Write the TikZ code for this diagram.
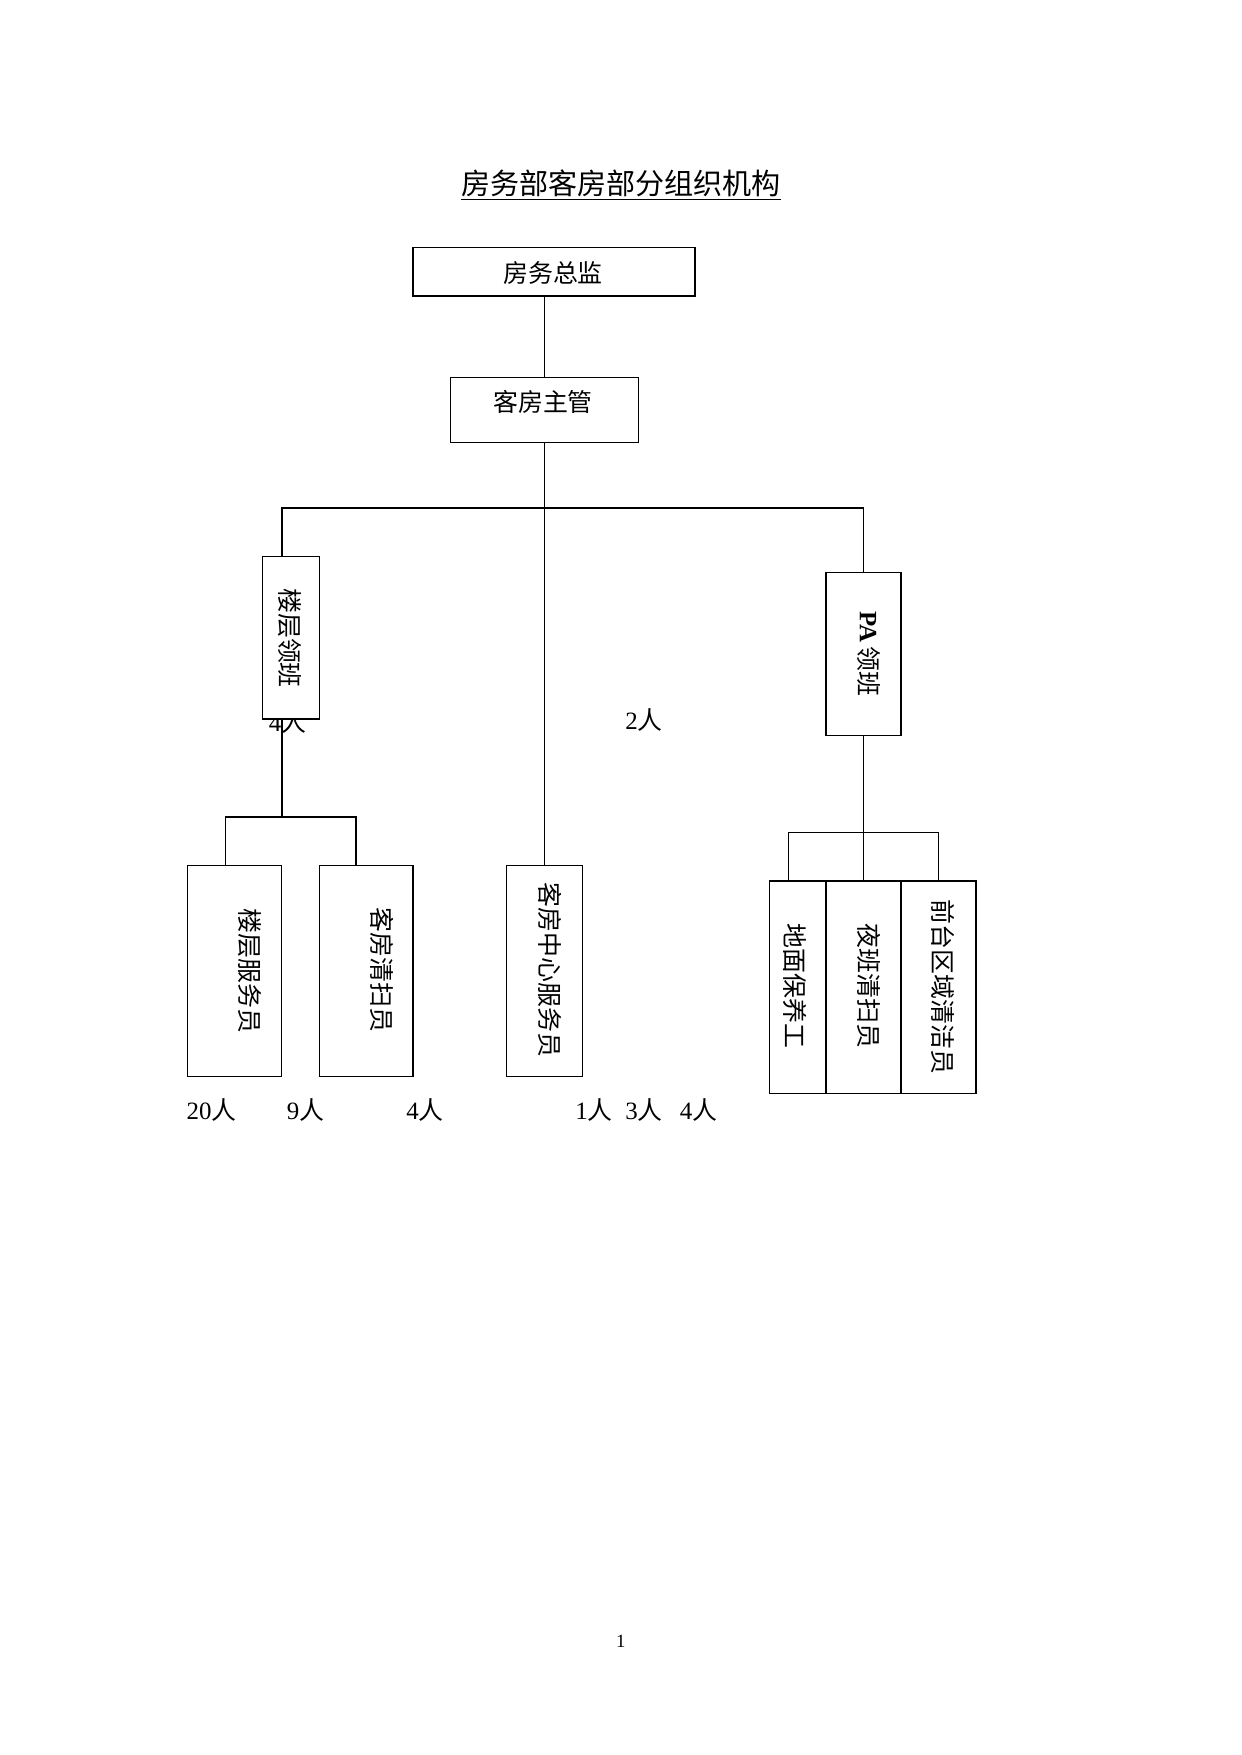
\documentclass[tikz,border=0pt]{standalone}
\usepackage{fontspec}
\setmainfont{Liberation Serif}
\newfontfamily\cjk{Noto Sans CJK SC}
\usetikzlibrary{positioning}
\tikzset{
  box/.style={draw, line width=0.75pt, fill=white, inner sep=0pt},
  lowbox/.style={box, minimum height={211.4*\pu}},
  pabox/.style={box, minimum height={212.3*\pu}},
  vtxt/.style={rotate=-90, inner sep=0pt, font=\cjk\fontsize{12}{14}\selectfont},
  htxt/.style={inner sep=0pt, font=\cjk\fontsize{12}{14}\selectfont},
  num/.style={inner sep=0pt, font=\fontsize{12}{14}\selectfont},
  link/.style={line width=0.6pt},
}
\newcommand{\pu}{0.16922mm}
\newcommand{\ren}{{\cjk 人}}

\begin{document}
\begin{tikzpicture}[x=0.16922mm, y=-0.16922mm]
  \useasboundingbox (0,0) rectangle (1241,1755);
  \node[inner sep=0pt, font=\cjk\fontsize{14}{16}\selectfont] (title) at (621,185) {\underline{房务部客房部分组织机构}};
  \node[box, minimum width={281.7*\pu}, minimum height={48.7*\pu}] (zj) at (553.9,271.7) {};
  \node[htxt] (zjT) at (553,272.7) {房务总监};
  \node[box, minimum width={187.6*\pu}, minimum height={65*\pu}] (zg) at (544.5,410.2) {};
  \node[htxt] (zgT) at (543,402) {客房主管};
  \node[num] (n4a) at (287.5,722) {4\ren};
  \node[num] (n2) at (644,720) {2\ren};
  \coordinate (busL) at (282,508);
  \coordinate (busR) at (863.4,508);
  \coordinate (brL) at (282,817);
  \coordinate (tLf) at (225.3,817);
  \coordinate (tQs) at (356,817);
  \coordinate (pL) at (788.3,832.7);
  \coordinate (pR) at (938.7,832.7);
  \draw[link] (zg.north) -- (zg.north |- 0,296);
  \draw[link] (busL |- 0,719) -- (brL);
  \node[box, minimum width={56.6*\pu}, minimum height={162.7*\pu}] (lcl) at (291,637.7) {};
  \node[vtxt] (lclT) at (289.5,638) {楼层领班};
  \node[box, minimum width={75.3*\pu}, minimum height={162.6*\pu}] (pal) at (863.4,654) {};
  \node[vtxt] (palT) at (869.3,654) {{\rmfamily\bfseries PA}\,领班};
  \node[lowbox, minimum width={94*\pu}] (lcfw) at (234.7,971) {};
  \node[vtxt] (lcfwT) at (250,971) {楼层服务员};
  \node[lowbox, minimum width={93.7*\pu}] (kfqs) at (366.2,971) {};
  \node[vtxt] (kfqsT) at (381.7,970) {客房清扫员};
  \node[lowbox, minimum width={75.6*\pu}] (kfzx) at (544.5,971) {};
  \node[vtxt] (kfzxT) at (550,970) {客房中心服务员};
  \node[pabox, minimum width={56.4*\pu}] (dmby) at (797.5,987.2) {};
  \node[vtxt] (dmbyT) at (795,986) {地面保养工};
  \node[pabox, minimum width={75.3*\pu}] (ybqs) at (863.4,987.2) {};
  \node[vtxt] (ybqsT) at (869,986) {夜班清扫员};
  \node[pabox, minimum width={75*\pu}] (qtqy) at (938.5,987.2) {};
  \node[vtxt] (qtqyT) at (943.3,987) {前台区域清洁员};
  \draw[link] (lcl.north -| busL) -- (busL) -- (busR) -- (pal.north);
  \draw[link] (zg.south) -- (kfzx.north);
  \draw[link] (tLf |- lcfw.north) -- (tLf) -- (tQs) -- (tQs |- kfqs.north);
  \draw[link] (pal.south) -- (ybqs.north);
  \draw[link] (pL |- dmby.north) -- (pL) -- (pR) -- (pR |- qtqy.north);
  \node[num] (n20) at (211.5,1110.5) {20\ren};
  \node[num] (n9) at (305.5,1110.5) {9\ren};
  \node[num] (n4b) at (425,1110.5) {4\ren};
  \node[num] (n1) at (594,1110.5) {1\ren};
  \node[num] (n3) at (644,1110.5) {3\ren};
  \node[num] (n4c) at (698.5,1110.5) {4\ren};
  \node[num, font=\fontsize{9}{10}\selectfont] (pg) at (620.7,1641.7) {1};
\end{tikzpicture}
\end{document}
